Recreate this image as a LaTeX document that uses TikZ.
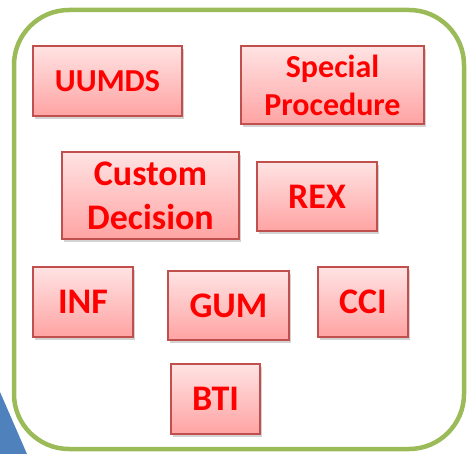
\documentclass[tikz,border=0pt]{standalone}
\usepackage{fontspec}
\setmainfont{Carlito}
\usetikzlibrary{shadows}
\definecolor{box-red}{HTML}{FF0000}
\definecolor{box-edge}{HTML}{C0504D}
\definecolor{box-top}{HTML}{FFE3E3}
\definecolor{box-bottom}{HTML}{FFA3A3}
\definecolor{frame-green}{HTML}{9BBB59}
\definecolor{corner-blue}{HTML}{4F81BD}
\tikzset{
  tagbox/.style={draw=box-edge, line width=1.3pt, top color=box-top, bottom color=box-bottom,
    text=box-red, font=\bfseries\fontsize{36}{44}\selectfont, align=center, inner sep=0pt,
    drop shadow={shadow xshift=1.5pt, shadow yshift=-3pt, opacity=0.35}},
  smalltag/.style={tagbox, font=\bfseries\fontsize{32}{38}\selectfont}
}
\begin{document}
\begin{tikzpicture}[x=1pt, y=-1pt]
\useasboundingbox (0,0) rectangle (471,454);
% blue corner
\fill[corner-blue] (0,392) -- (27,454) -- (0,454) -- cycle;
% green frame
\draw[frame-green, line width=4.5pt, rounded corners=55pt] (14,10) rectangle (464,449);
% boxes
\node[smalltag, minimum width=149pt, minimum height=70pt] (uumds) at (107.5,81) {UUMDS};
\node[smalltag, minimum width=183pt, minimum height=78pt] (special) at (332.5,85) {Special\\Procedure};
\node[tagbox, minimum width=177pt, minimum height=87pt] (custom) at (150.5,195.5) {Custom\\Decision};
\node[tagbox, minimum width=120pt, minimum height=69pt] (rex) at (317,196.5) {REX};
\node[tagbox, minimum width=100pt, minimum height=70pt] (inf) at (83,302) {INF};
\node[tagbox, minimum width=121pt, minimum height=69pt] (gum) at (228.5,305.5) {GUM};
\node[tagbox, minimum width=90pt, minimum height=70pt] (cci) at (363,302) {CCI};
\node[tagbox, minimum width=89pt, minimum height=70pt] (bti) at (215.5,399) {BTI};
\end{tikzpicture}
\end{document}
